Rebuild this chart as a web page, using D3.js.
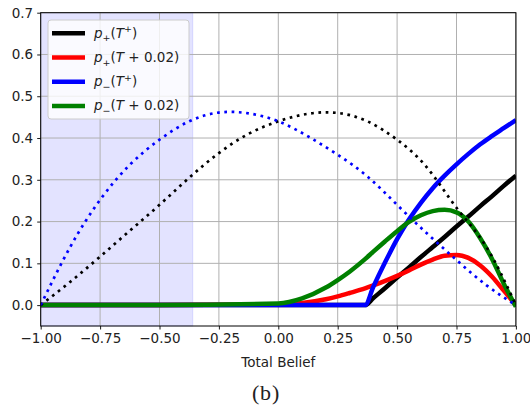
<!DOCTYPE html>
<html>
<head>
<meta charset="utf-8">
<script src="https://cdn.jsdelivr.net/npm/d3@7"></script>
<style>
  body { margin: 0; background: #fff; }
  svg { display: block; font-family: "DejaVu Sans", sans-serif; }
</style>
</head>
<body>
<div id="graph"></div>
<script>
// x grid for the solid curves
var xSolid = [-1, -0.5, 0, 0.1, 0.2, 0.25, 0.3, 0.365, 0.4, 0.45, 0.5, 0.55, 0.6, 0.65, 0.7, 0.75, 0.8, 0.85, 0.9, 0.95, 1];
var pPlusT     = [0, 0, 0, 0, 0, 0, 0, 0, 0.017, 0.041, 0.066, 0.09, 0.115, 0.139, 0.163, 0.188, 0.212, 0.237, 0.261, 0.286, 0.31];
var pPlusT02   = [0, 0, 0.002, 0.005, 0.014, 0.021, 0.029, 0.04, 0.047, 0.058, 0.07, 0.083, 0.097, 0.109, 0.118, 0.12, 0.113, 0.095, 0.068, 0.034, 0];
var pMinusT    = [0, 0, 0, 0, 0, 0, 0, 0, 0.044, 0.103, 0.158, 0.205, 0.245, 0.28, 0.31, 0.337, 0.362, 0.385, 0.405, 0.424, 0.443];
var pMinusT02  = [0, 0, 0.004, 0.016, 0.042, 0.06, 0.08, 0.11, 0.128, 0.153, 0.177, 0.199, 0.215, 0.225, 0.228, 0.222, 0.2, 0.16, 0.11, 0.05, -0.004];

// x grid for the dotted curves
var xDot = [-1, -0.875, -0.75, -0.625, -0.5, -0.375, -0.25, -0.125, 0, 0.125, 0.25, 0.375, 0.5, 0.625, 0.75, 0.875, 1];
var plusDot  = [0, 0.056, 0.116, 0.178, 0.24, 0.305, 0.364, 0.41, 0.44, 0.458, 0.46, 0.44, 0.396, 0.33, 0.233, 0.14, 0];
var minusDot = [0, 0.14, 0.252, 0.336, 0.396, 0.44, 0.461, 0.459, 0.44, 0.404, 0.36, 0.308, 0.24, 0.172, 0.108, 0.048, 0];

var shadeEnd = -0.36;
var xTicks = [-1, -0.75, -0.5, -0.25, 0, 0.25, 0.5, 0.75, 1];
var yTicks = [0, 0.1, 0.2, 0.3, 0.4, 0.5, 0.6, 0.7];

var legendItems = [
  {color: "black", parts: [{t: "p", i: 1}, {t: "+", sub: 1}, {t: "("}, {t: "T", i: 1}, {t: "+", sup: 1}, {t: ")"}]},
  {color: "#ff0000", parts: [{t: "p", i: 1}, {t: "+", sub: 1}, {t: "("}, {t: "T", i: 1}, {t: " + 0.02)"}]},
  {color: "#0000ff", parts: [{t: "p", i: 1}, {t: "\u2212", sub: 1}, {t: "("}, {t: "T", i: 1}, {t: "+", sup: 1}, {t: ")"}]},
  {color: "#008000", parts: [{t: "p", i: 1}, {t: "\u2212", sub: 1}, {t: "("}, {t: "T", i: 1}, {t: " + 0.02)"}]}
];

var width = 530, height = 406;
var axLeft = 40.7, axRight = 515.9, axTop = 12.7, axBottom = 326;

var svg = d3.select("#graph").append("svg")
  .attr("width", width)
  .attr("height", height);

var x = d3.scaleLinear().domain([-1, 1]).range([axLeft, axRight]);
var y = d3.scaleLinear().domain([-0.05, 0.7]).range([axBottom, axTop]);

// shaded region
svg.append("rect")
  .attr("x", x(-1)).attr("y", axTop)
  .attr("width", x(shadeEnd) - x(-1)).attr("height", axBottom - axTop)
  .attr("fill", "rgba(0,0,255,0.11)")
  .attr("stroke", "rgba(0,0,255,0.11)").attr("stroke-width", 1);

// grid
svg.append("g").selectAll("line").data(xTicks).enter().append("line")
  .attr("x1", d => x(d)).attr("x2", d => x(d))
  .attr("y1", axTop).attr("y2", axBottom)
  .attr("stroke", "#b0b0b0").attr("stroke-width", 1);
svg.append("g").selectAll("line").data(yTicks).enter().append("line")
  .attr("x1", axLeft).attr("x2", axRight)
  .attr("y1", d => y(d)).attr("y2", d => y(d))
  .attr("stroke", "#b0b0b0").attr("stroke-width", 1);

svg.append("clipPath").attr("id", "clip").append("rect")
  .attr("x", axLeft).attr("y", axTop).attr("width", axRight - axLeft).attr("height", axBottom - axTop);

var line = d3.line().x(d => x(d[0])).y(d => y(d[1])).curve(d3.curveMonotoneX);
var plot = svg.append("g").attr("clip-path", "url(#clip)");

function solid(xs, ys, color) {
  plot.append("path")
    .datum(d3.zip(xs, ys))
    .attr("d", line)
    .attr("fill", "none")
    .attr("stroke", color)
    .attr("stroke-width", 4.5);
}
function dotted(xs, ys, color) {
  plot.append("path")
    .datum(d3.zip(xs, ys))
    .attr("d", d3.line().x(d => x(d[0])).y(d => y(d[1])).curve(d3.curveNatural))
    .attr("fill", "none")
    .attr("stroke", color)
    .attr("stroke-width", 2.7)
    .attr("stroke-dasharray", "2.7,4.6");
}
solid(xSolid, pPlusT, "black");
solid(xSolid, pPlusT02, "#ff0000");
solid(xSolid, pMinusT, "#0000ff");
solid(xSolid, pMinusT02, "#008000");
dotted(xDot, plusDot, "black");
dotted(xDot, minusDot, "#0000ff");

// axes
svg.append("g")
  .attr("transform", "translate(0," + axBottom + ")")
  .call(d3.axisBottom(x).tickValues(xTicks).tickSize(3.5).tickPadding(4)
    .tickFormat(d => d3.format(".2f")(d).replace("-", "\u2212")))
  .call(g => g.select(".domain").remove());
svg.append("g")
  .attr("transform", "translate(" + axLeft + ",0)")
  .call(d3.axisLeft(y).tickValues(yTicks).tickSize(3.5).tickPadding(4)
    .tickFormat(d3.format(".1f")))
  .call(g => g.select(".domain").remove());
svg.selectAll(".tick text").attr("font-size", 13.5).attr("font-family", "DejaVu Sans").attr("fill", "#222");
svg.selectAll(".tick line").attr("stroke", "black").attr("stroke-width", 0.9);

svg.append("rect")
  .attr("x", axLeft).attr("y", axTop).attr("width", axRight - axLeft).attr("height", axBottom - axTop)
  .attr("fill", "none").attr("stroke", "black").attr("stroke-width", 1);

// legend
var lg = svg.append("g");
lg.append("rect")
  .attr("x", 48).attr("y", 20).attr("width", 141).attr("height", 99).attr("rx", 3)
  .attr("fill", "rgba(255,255,255,0.8)").attr("stroke", "#cccccc").attr("stroke-width", 1);
legendItems.forEach(function(it, k) {
  var cy = 33.3 + k * 24.2;
  lg.append("line")
    .attr("x1", 52).attr("x2", 85).attr("y1", cy).attr("y2", cy)
    .attr("stroke", it.color).attr("stroke-width", 4.5);
  var t = lg.append("text").attr("x", 94).attr("y", cy + 4.5)
    .attr("font-size", 13.5).attr("fill", "#222");
  var shift = 0;
  it.parts.forEach(function(p) {
    var target = p.sub ? 3.5 : (p.sup ? -5.5 : 0);
    var ts = t.append("tspan").text(p.t).attr("dy", target - shift);
    if (p.i) ts.attr("font-style", "italic");
    if (p.sub || p.sup) ts.attr("font-size", 9.5);
    shift = target;
  });
});

// labels
svg.append("text")
  .attr("x", (axLeft + axRight) / 2).attr("y", 366.5)
  .attr("text-anchor", "middle").attr("font-size", 13.5).attr("fill", "#222")
  .text("Total Belief");
svg.append("text")
  .attr("x", 266).attr("y", 400)
  .attr("text-anchor", "middle").attr("font-size", 22)
  .attr("font-family", "Liberation Serif, serif").attr("fill", "#222")
  .attr("letter-spacing", 0.8)
  .text("(b)");
</script>
</body>
</html>
